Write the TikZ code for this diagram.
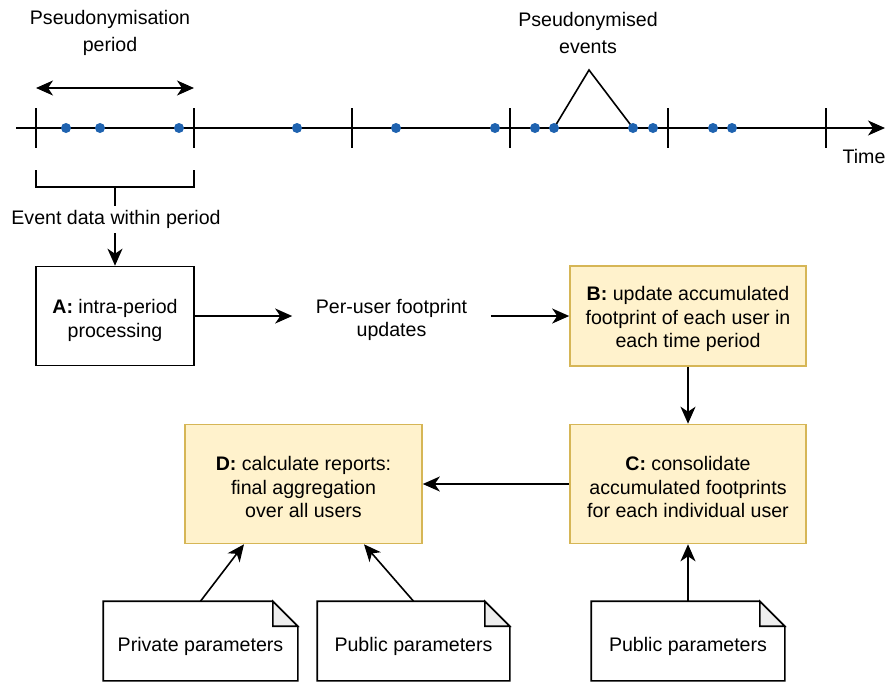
\documentclass[tikz,border=0pt]{standalone}
\usepackage{fontspec}
\setmainfont{Liberation Sans}
\usetikzlibrary{arrows.meta,calc}
\definecolor{boxfill}{HTML}{FFF2CC}
\definecolor{boxline}{HTML}{D6B656}
\definecolor{dotblue}{RGB}{31,99,176}
\definecolor{foldgray}{HTML}{EEEEEE}
\newcommand\tstrut{\rule{0pt}{21pt}}
\newcommand\docoutline[1]{%
  \draw (#1.north west) -- ([xshift=-25pt]#1.north east) -- ([yshift=-25pt]#1.north east) -- (#1.south east) -- (#1.south west) -- cycle;
  \filldraw[fill=foldgray] ([xshift=-25pt]#1.north east) -- ([xshift=-25pt,yshift=-25pt]#1.north east) -- ([yshift=-25pt]#1.north east) -- cycle;}
\begin{document}
\begin{tikzpicture}[x=1pt,y=-1pt,line width=1.6pt,
  >={Stealth[length=17pt,width=15pt,inset=5pt]},
  font=\fontsize{19.6}{23.5}\selectfont,
  proc/.style={draw, rectangle, align=center, inner sep=0pt},
  yellowbox/.style={proc, fill=boxfill, draw=boxline},
  lbl/.style={align=center, inner sep=0pt},
  toplbl/.style={lbl, font=\fontsize{19.6}{27}\selectfont},
  docn/.style={rectangle, inner sep=0pt, minimum height=78pt,
    execute at begin node={\rule{0pt}{26pt}}},
  evdot/.style={circle, fill=dotblue, inner sep=0pt, minimum size=10pt}]
\useasboundingbox (0,0) rectangle (889,683);

% timeline
\coordinate (t0) at (16,128);
\coordinate (t1) at (885,128);
\draw[->] (t0) -- (t1);
\foreach \x in {36,194,352,510,668,826} \draw (\x,108) -- (\x,148);

% event coordinates
\foreach \x [count=\n] in {66,100,179,297,396,495,535,554,633,653,713,732}
  \coordinate (e\n) at (\x,128);
\coordinate (apex) at (589,70);
\draw[line join=miter] (e8) -- (apex) -- (e9);
\foreach \n in {1,...,12} \node[evdot] at (e\n) {};

% labels above
\node[toplbl] (pp) at (110,33) {Pseudonymisation\\period};
\node[toplbl] (pe) at (588,33) {Pseudonymised\\events};
\node[lbl] (time) at (864,156) {Time};

% period double arrow
\coordinate (p0) at (36,88);
\coordinate (p1) at (194,88);
\draw[<->] (p0) -- (p1);

% bracket
\coordinate (bl) at (36,170);
\coordinate (br) at (194,170);
\coordinate (brk) at (115,187);
\draw (bl) -- (36,187) -- (194,187) -- (br);

% boxes
\node[proc, minimum width=158pt, minimum height=99pt] (A) at (115,316) {\rule{0pt}{23pt}\textbf{A:} intra-period\\processing};
\node[yellowbox, minimum width=236pt, minimum height=100pt] (B) at (688,316) {\tstrut\textbf{B:} update accumulated\\footprint of each user in\\each time period};
\node[yellowbox, minimum width=236pt, minimum height=119pt] (C) at (688,484) {\tstrut\textbf{C:} consolidate\\accumulated footprints\\for each individual user};
\node[yellowbox, minimum width=237pt, minimum height=119pt] (D) at (303.5,484) {\tstrut\textbf{D:} calculate reports:\\final aggregation\\over all users};

\node[lbl, minimum height=26pt] (ev) at (116,219.5) {Event data within period};
\draw (brk) -- (brk |- ev.north);
\draw[->] (brk |- ev.south) -- (A.north);

\node[lbl, minimum width=197pt] (pu) at (391.5,320) {Per-user footprint\\updates};
\draw[->] (A.east) -- (A.east -| pu.west);
\draw[->] (pu.east |- B.west) -- (B.west);
\draw[->] (B.south) -- (C.north);
\draw[->] (C.west) -- (D.east);

% documents
\node[docn, minimum width=193pt] (d1) at (200.5,641) {Private parameters};
\node[docn, minimum width=191pt] (d2) at (413.5,641) {Public parameters};
\node[docn, minimum width=192pt] (d3) at (688,641) {Public parameters};
\docoutline{d1}
\docoutline{d2}
\docoutline{d3}
\draw[->] (d1.north) -- ([xshift=-59.5pt]D.south);
\draw[->] (d2.north) -- ([xshift=60.5pt]D.south);
\draw[->] (d3.north) -- (C.south);
\end{tikzpicture}
\end{document}
